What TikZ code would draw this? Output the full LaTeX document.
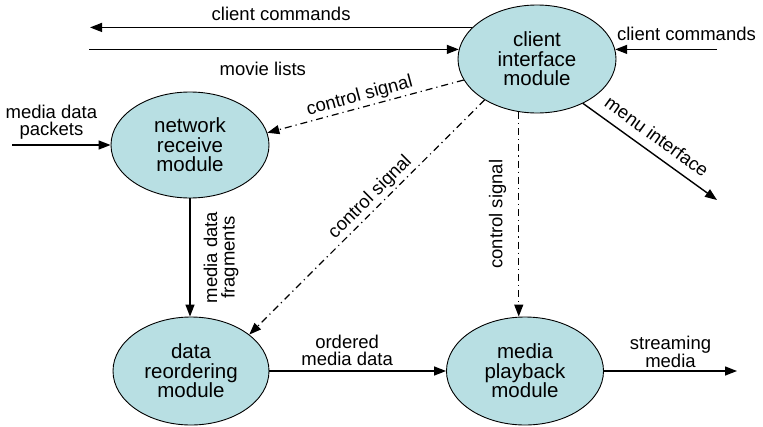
\documentclass[tikz,border=0pt]{standalone}
\usepackage{fontspec}
\setmainfont{Liberation Sans}
\usetikzlibrary{shapes.geometric,arrows.meta}
\definecolor{modfill}{RGB}{184,223,227}
\begin{document}
\begin{tikzpicture}[x=1pt,y=-1pt,
  module/.style={ellipse,draw=black,line width=0.9pt,fill=modfill,inner sep=0pt,align=center,font=\fontsize{20.5}{19.5}\selectfont},
  flow/.style={line width=1.4pt,-{Triangle[length=12pt,width=9pt]}},
  ctrl/.style={line width=1.2pt,dash pattern=on 7pt off 4pt on 1.2pt off 4pt,-{Triangle[length=12pt,width=9pt]}},
  lbl/.style={inner xsep=1pt,inner ysep=0pt,align=center,font=\fontsize{18.5}{17.5}\selectfont}]
\useasboundingbox (0,0) rectangle (763,426);
\node[module,minimum width=158pt,minimum height=108pt] (client) at (537,59) {client\\interface\\module};
\node[module,minimum width=158pt,minimum height=106pt] (net) at (190,145) {network\\receive\\module};
\node[module,minimum width=156pt,minimum height=108pt] (reorder) at (191,371) {data\\reordering\\module};
\node[module,minimum width=157pt,minimum height=108pt] (play) at (525,371) {media\\playback\\module};
\coordinate (ccL) at (90,28);
\coordinate (mlL) at (89,50);
\coordinate (ccR) at (717,50);
\coordinate (menuEnd) at (717,200);
\coordinate (pktL) at (12,146);
\coordinate (streamEnd) at (737,371);
\draw[flow] (client.154) -- (client.154 -| ccL) node[lbl,midway,anchor=south,inner ysep=6pt] {client commands};
\draw[flow] (client.173 -| mlL) -- (client.173) node[lbl,pos=0.47,anchor=north,inner ysep=12pt] {movie lists};
\draw[flow] (client.7 -| ccR) -- (client.7) node[lbl,pos=0.3,anchor=south,inner ysep=8pt] {client commands};
\draw[flow] (client.316) -- (menuEnd) node[lbl,pos=0.48,sloped,anchor=south,inner ysep=9pt] {menu interface};
\draw[ctrl] (client.196) -- (net.9) node[lbl,pos=0.515,sloped,anchor=south,inner ysep=2pt] {control signal};
\draw[ctrl] (client.218) -- (reorder.32) node[lbl,pos=0.45,sloped,anchor=south,inner ysep=2.5pt] {control signal};
\draw[ctrl] (client.251) -- (client.251 |- play.north) node[lbl,midway,rotate=90,anchor=south,inner ysep=12pt] {control signal};
\draw[flow] (pktL |- net.west) -- (net.west) node[lbl,pos=0.4,anchor=south,inner ysep=4.5pt] {media data\\packets};
\draw[flow] (net.south) -- (net.south |- reorder.north) node[lbl,midway,rotate=90,anchor=north,inner ysep=13pt] {media data\\fragments};
\draw[flow] (reorder.east) -- (play.west) node[lbl,pos=0.44,anchor=south,inner ysep=4.3pt] {ordered\\media data};
\draw[flow] (play.east) -- (streamEnd) node[lbl,midway,anchor=south,inner ysep=3pt] {streaming\\media};
\end{tikzpicture}
\end{document}
